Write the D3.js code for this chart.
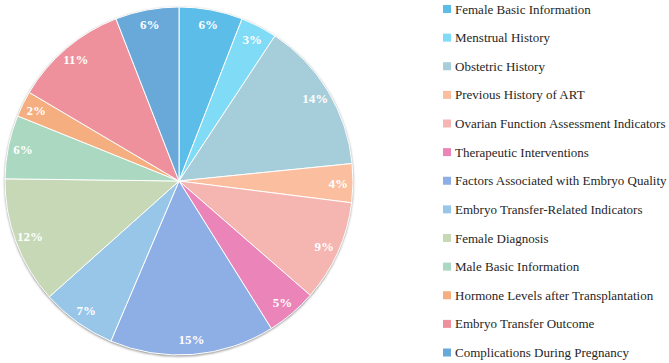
<!DOCTYPE html>
<html>
<head>
<meta charset="utf-8">
<script src="https://cdn.jsdelivr.net/npm/d3@7"></script>
<style>
  body { margin: 0; background: #fff; }
  svg { display: block; }
  svg text { font-family: "Liberation Serif", "Times New Roman", serif; }
</style>
</head>
<body>
<div id="chart"></div>
<script>
const categories = ["Female Basic Information",
                    "Menstrual History",
                    "Obstetric History",
                    "Previous History of ART",
                    "Ovarian Function Assessment Indicators",
                    "Therapeutic Interventions",
                    "Factors Associated with Embryo Quality",
                    "Embryo Transfer-Related Indicators",
                    "Female Diagnosis",
                    "Male Basic Information",
                    "Hormone Levels after Transplantation",
                    "Embryo Transfer Outcome",
                    "Complications During Pregnancy"];

// share of each category
const values = [5.9, 3.4, 14.1, 3.6, 9.4, 4.7, 15.3, 7.0, 11.8, 5.9, 2.4, 10.6, 5.9];

const colors = ["#5dbde9", "#80dcf6", "#a6cdda", "#fbbfa0",
                "#f5b6b1", "#ea84b9", "#8eaee6", "#97c6e9",
                "#c6d8b5", "#aad8c1", "#f5ae7f", "#ee919d", "#68a9d9"];

const width = 669, height = 363;
const cx = 179, cy = 181, radius = 174;

const svg = d3.select("#chart")
    .append("svg")
    .attr("width", width)
    .attr("height", height);

// soft shadow round the pie
const defs = svg.append("defs");
defs.append("filter")
    .attr("id", "shadow")
    .attr("x", "-10%").attr("y", "-10%")
    .attr("width", "120%").attr("height", "120%")
  .append("feGaussianBlur")
    .attr("stdDeviation", 1.2);

const g = svg.append("g")
    .attr("transform", `translate(${cx},${cy})`);

g.append("circle")
    .attr("r", radius + 0.5)
    .attr("cy", 1)
    .attr("fill", "#9a9a9a")
    .attr("filter", "url(#shadow)");

const total = d3.sum(values);
const pie = d3.pie().sort(null).value(d => d)(values);

const arc = d3.arc().innerRadius(0).outerRadius(radius);
const labelArc = d3.arc().innerRadius(radius * 0.915).outerRadius(radius * 0.915);

g.selectAll("path.slice")
    .data(pie)
    .join("path")
    .attr("class", "slice")
    .attr("d", arc)
    .attr("fill", (d, i) => colors[i])
    .attr("stroke", "#fff")
    .attr("stroke-width", 1);

g.selectAll("text.pct")
    .data(pie)
    .join("text")
    .attr("class", "pct")
    .attr("transform", d => `translate(${labelArc.centroid(d)})`)
    .attr("text-anchor", "middle")
    .attr("dy", "0.35em")
    .style("font-weight", "bold")
    .style("font-size", "13px")
    .attr("fill", "#fff")
    .text(d => Math.round(d.data / total * 100) + "%");

// legend
const legend = svg.append("g")
    .attr("transform", "translate(443,9)");

const y = d3.scalePoint()
    .domain(categories)
    .range([0, 343.5]);

const rows = legend.selectAll("g.row")
    .data(categories)
    .join("g")
    .attr("class", "row")
    .attr("transform", d => `translate(0,${y(d)})`);

rows.append("rect")
    .attr("x", 0)
    .attr("y", -4)
    .attr("width", 8)
    .attr("height", 8)
    .attr("fill", (d, i) => colors[i]);

rows.append("text")
    .attr("x", 12)
    .attr("dy", "0.35em")
    .style("font-size", "13px")
    .attr("fill", "#262626")
    .text(d => d);
</script>
</body>
</html>
